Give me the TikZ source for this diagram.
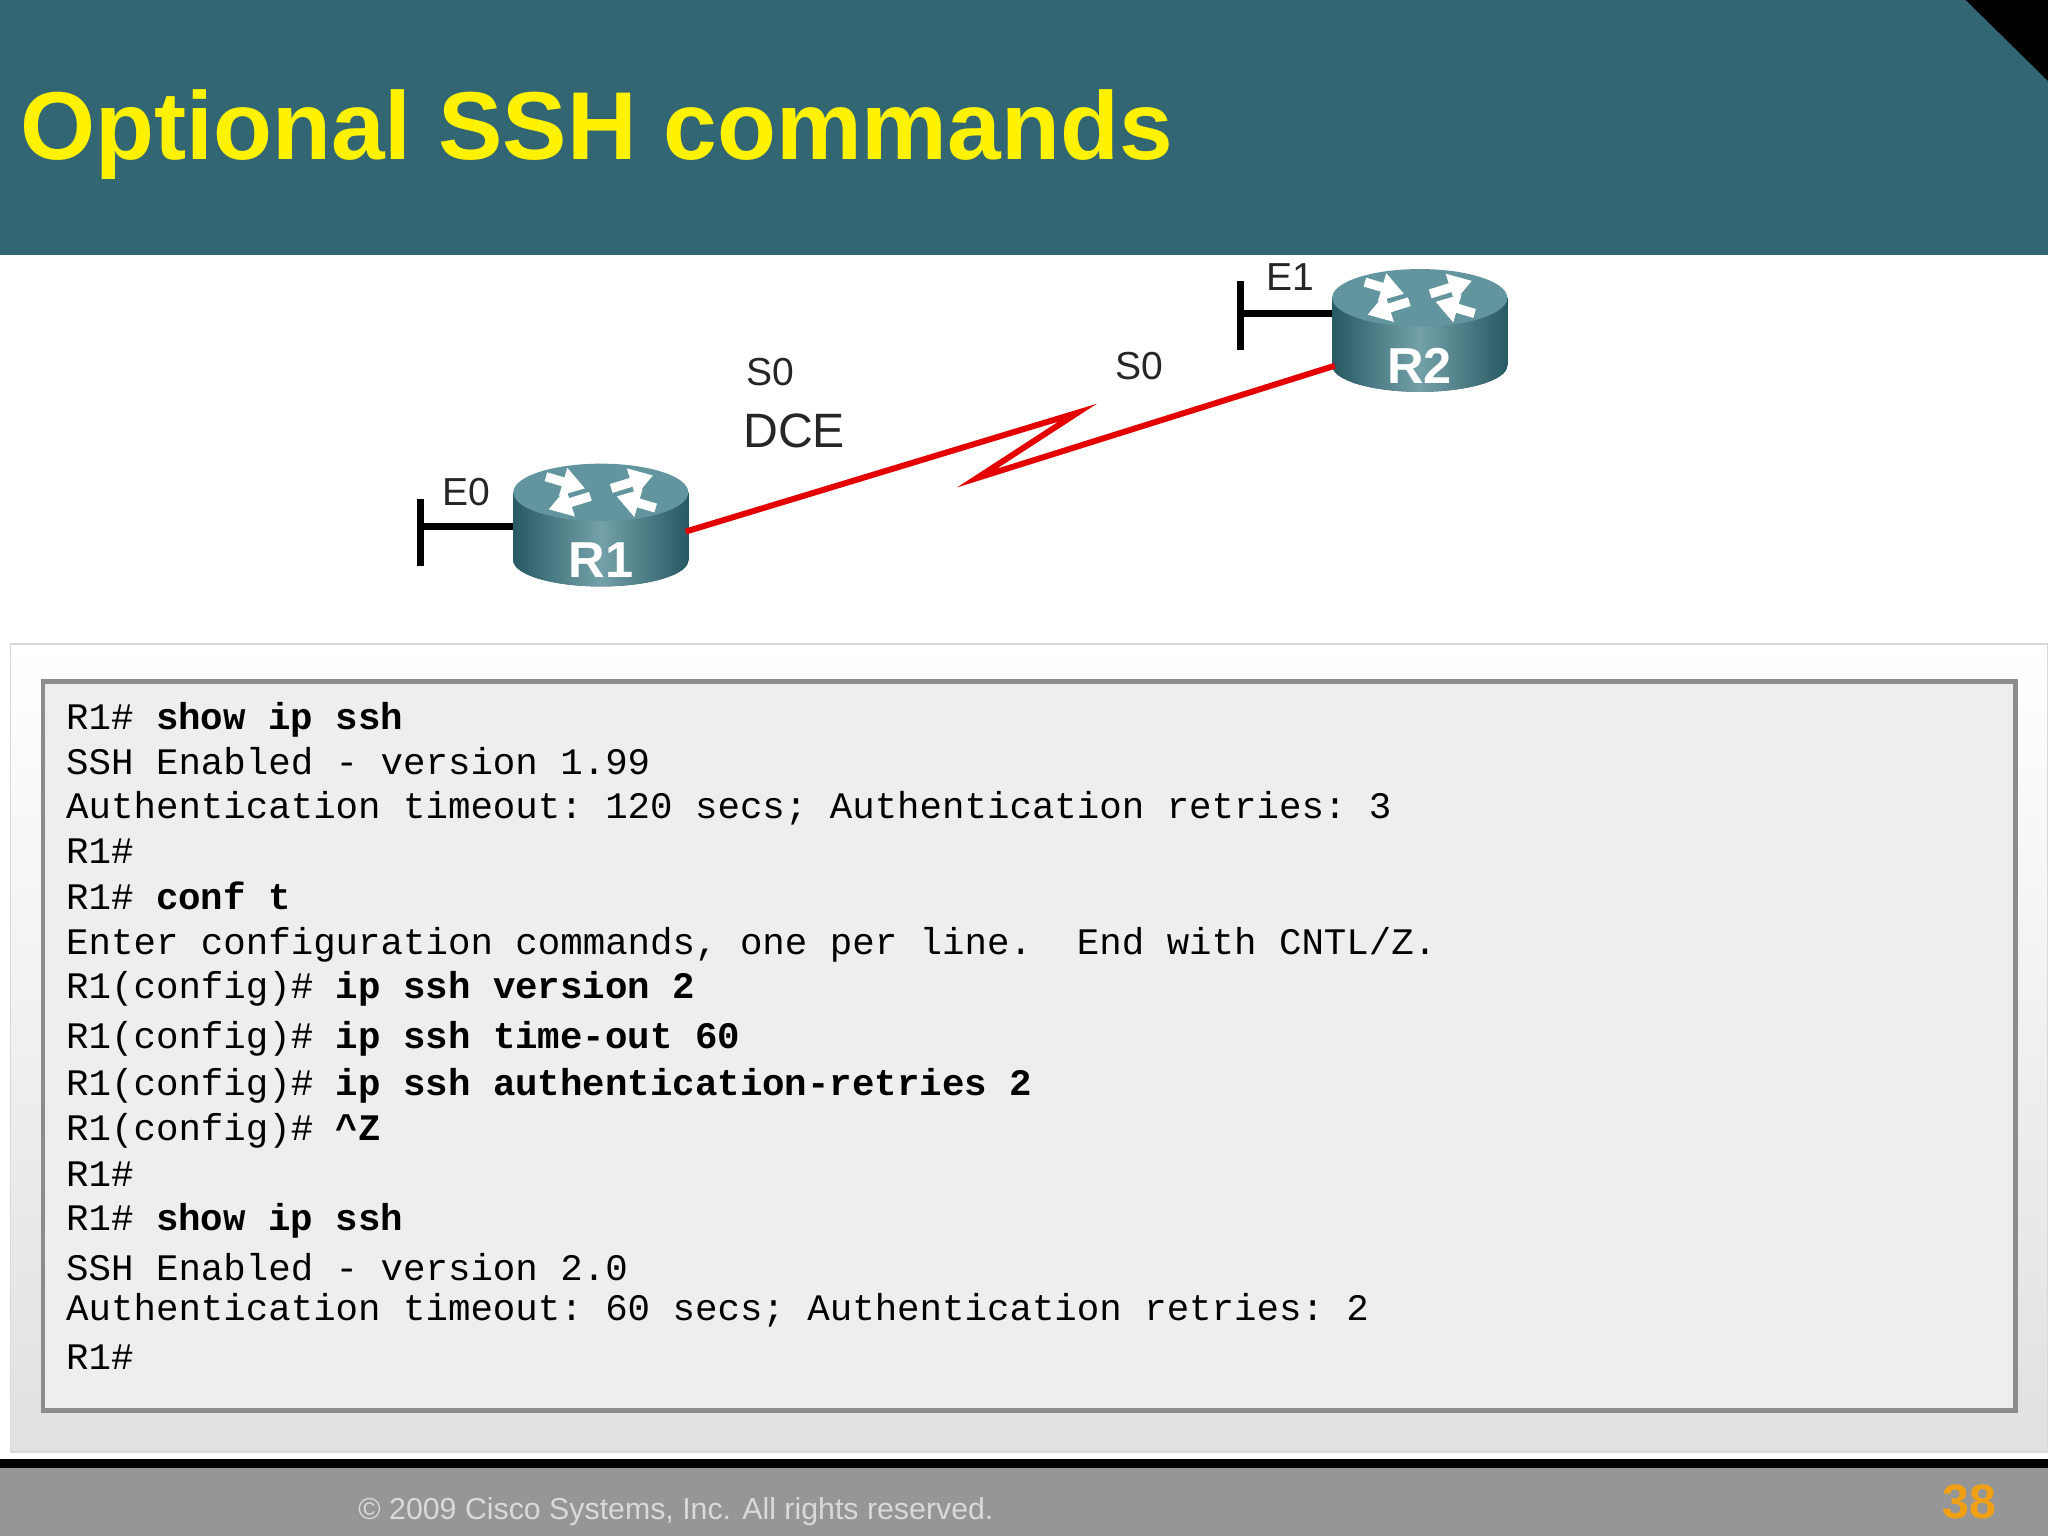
\documentclass[tikz,border=0pt]{standalone}
\usepackage{fontspec}
\setmainfont{Liberation Sans}
\setmonofont{Liberation Mono}
\usetikzlibrary{arrows.meta}
\definecolor{band}{RGB}{51,102,115}
\definecolor{rtr}{RGB}{70,130,140}
\definecolor{rtrd}{RGB}{40,90,100}
\definecolor{termbg}{RGB}{238,238,238}
\definecolor{foot}{RGB}{150,150,150}
\definecolor{org}{RGB}{240,160,20}
\tikzset{
  lbl/.style={font=\fontsize{8.5}{10}\selectfont, text=black!85},
  term/.style={font=\ttfamily\fontsize{8.15}{10}\selectfont, anchor=west, inner sep=0pt},
  port/.style={line width=1.6pt, black},
  link/.style={red!90!black, line width=1.3pt},
  rarr/.style={white, line width=2pt, -{Triangle[length=5pt,width=6pt]}},
}
\newcommand{\router}[3]{%
  \begin{scope}[shift={(#1,#2)}]
    \fill[rtrd] (0,52) ellipse[x radius=67,y radius=20];
    \shade[left color=rtrd, right color=rtrd, middle color=rtr!75!white] (-67,0) rectangle (67,52);
    \shade[left color=rtrd, right color=rtrd, middle color=rtr!75!white] (0,52) ellipse[x radius=67,y radius=20];
    \fill[rtr!85!white] (0,0) ellipse[x radius=67,y radius=22];
    \draw[rarr] (-42,-12) -- (-12,-3);
    \draw[rarr] (42,12) -- (12,3);
    \draw[rarr] (-8,3) -- (-40,13);
    \draw[rarr] (8,-3) -- (40,-13);
    \node[text=white, font=\bfseries\fontsize{11}{13}\selectfont] at (0,52) {#3};
  \end{scope}}
\begin{document}
\begin{tikzpicture}[x=0.01cm,y=-0.01cm]
\useasboundingbox (0,0) rectangle (1568,1176);
\fill[white] (0,0) rectangle (1568,1176);
% header
\fill[band] (0,0) rectangle (1568,195);
\fill[black] (1505,0) -- (1568,0) -- (1568,62) -- cycle;
\node[anchor=base west, text=yellow, font=\bfseries\fontsize{21}{25}\selectfont, inner sep=0pt] (title) at (15,122) {Optional SSH commands};
% ports
\draw[port] (322,382) -- (322,433);
\draw[port] (322,403) -- (395,403);
\draw[port] (950,215) -- (950,268);
\draw[port] (950,240) -- (1022,240);
% routers
\router{460}{377}{R1}
\router{1087}{228}{R2}
\coordinate (r1) at (525,407);
\coordinate (r2) at (1022,280);
\coordinate (z1) at (825,316);
\coordinate (z2) at (748,366);
\draw[link, line join=miter] (r1) -- (z1) -- (z2) -- (r2);
\node[lbl] (s0a) at (590,285) {S0};
\node[lbl, font=\fontsize{10.5}{12}\selectfont] (dce) at (608,330) {DCE};
\node[lbl] (s0b) at (872,280) {S0};
\node[lbl] (e0) at (357,377) {E0};
\node[lbl] (e1) at (988,212) {E1};
% terminal
\shade[top color=white, bottom color=black!12, draw=black!15] (8,493) rectangle (1568,1112);
\fill[termbg] (33,522) rectangle (1543,1080);
\draw[black!45, line width=1pt] (33,522) rectangle (1543,1080);
\foreach \y/\t [count=\i] in {
 551/{R1\# \textbf{show ip ssh}},
 583/{SSH Enabled - version 1.99},
 619/{Authentication timeout: 120 secs; Authentication retries: 3},
 652/{R1\#},
 686/{R1\# \textbf{conf t}},
 723/{Enter configuration commands, one per line.\ \ End with CNTL/Z.},
 757/{R1(config)\# \textbf{ip ssh version 2}},
 795/{R1(config)\# \textbf{ip ssh time-out 60}},
 831/{R1(config)\# \textbf{ip ssh authentication-retries 2}},
 866/{R1(config)\# \textbf{\^{}Z}},
 899/{R1\#},
 935/{R1\# \textbf{show ip ssh}},
 970/{SSH Enabled - version 2.0},
 1003/{Authentication timeout: 60 secs; Authentication retries: 2},
 1039/{R1\#}}
 { \node[term] (t\i) at (50,\y) {\t}; }
% footer
\fill[foot] (0,1120) rectangle (1568,1176);
\fill[black] (0,1117) rectangle (1568,1124);
\node[anchor=west, text=black!15, font=\fontsize{6.6}{8}\selectfont] (copy) at (262,1157) {© 2009 Cisco Systems, Inc. All rights reserved.};
\node[text=org, font=\bfseries\fontsize{10.5}{12}\selectfont] (pg) at (1508,1150) {38};
\end{tikzpicture}
\end{document}
